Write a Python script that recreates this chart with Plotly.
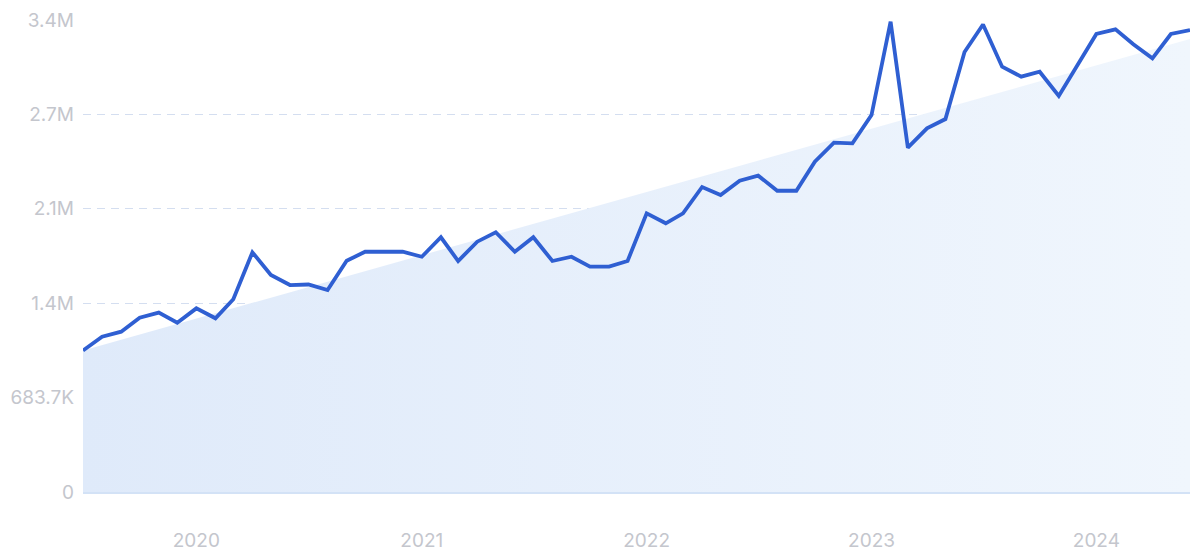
import plotly.graph_objects as go
import pandas as pd

# Monthly data, Jul 2019 - Jun 2024
months = pd.date_range("2019-07-01", "2024-06-01", freq="MS").strftime("%Y-%m-%d").tolist()
values = [
    1.025e6, 1.125e6, 1.161e6, 1.262e6, 1.299e6, 1.226e6,            # 2019 Jul-Dec
    1.330e6, 1.258e6, 1.396e6, 1.736e6, 1.572e6, 1.499e6,            # 2020 Jan-Jun
    1.503e6, 1.463e6, 1.675e6, 1.740e6, 1.740e6, 1.740e6,            # 2020 Jul-Dec
    1.704e6, 1.845e6, 1.673e6, 1.813e6, 1.881e6, 1.740e6,            # 2021 Jan-Jun
    1.845e6, 1.673e6, 1.704e6, 1.632e6, 1.632e6, 1.673e6,            # 2021 Jul-Dec
    2.018e6, 1.946e6, 2.018e6, 2.209e6, 2.151e6, 2.255e6,            # 2022 Jan-Jun
    2.291e6, 2.182e6, 2.182e6, 2.392e6, 2.530e6, 2.525e6,            # 2022 Jul-Dec
    2.730e6, 3.406e6, 2.494e6, 2.634e6, 2.701e6, 3.187e6,            # 2023 Jan-Jun
    3.386e6, 3.080e6, 3.008e6, 3.044e6, 2.868e6, 3.093e6,            # 2023 Jul-Dec
    3.317e6, 3.351e6, 3.243e6, 3.141e6, 3.317e6, 3.346e6,            # 2024 Jan-Jun
]

# Trend (shaded area) endpoints
trend_dates = ["2019-07-01", "2024-06-01"]
trend_values = [1.025e6, 3.28e6]

# Axis ticks
y_tickvals = [0, 683700, 1367400, 2051100, 2734800, 3418500]
y_ticktext = ["0", "683.7K", "1.4M", "2.1M", "2.7M", "3.4M"]
x_tickvals = ["2020-01-01", "2021-01-01", "2022-01-01", "2023-01-01", "2024-01-01"]
x_ticktext = ["2020", "2021", "2022", "2023", "2024"]

fig = go.Figure()

fig.add_trace(go.Scatter(
    x=trend_dates, y=trend_values, mode="lines",
    line=dict(width=0, color="rgba(0,0,0,0)"),
    fill="tozeroy",
    fillgradient=dict(type="horizontal",
                      colorscale=[[0, "#dfeafa"], [1, "#f0f6fd"]]),
    hoverinfo="skip", showlegend=False,
))

fig.add_trace(go.Scatter(
    x=months, y=values, mode="lines",
    line=dict(color="#2f5fd2", width=3.8),
    showlegend=False,
))

tick_font = dict(family="Inter, Roboto, sans-serif", size=19, color="#c4c6cd")

# The page body has an 8px margin, so the figure is sized to fit the window.
fig.update_layout(
    width=1192, height=548,
    margin=dict(l=75, r=10, t=12, b=64),
    paper_bgcolor="white", plot_bgcolor="white",
    xaxis=dict(
        type="date", automargin=False,
        range=["2019-07-01", "2024-06-01"],
        tickvals=x_tickvals, ticktext=x_ticktext,
        showgrid=False, zeroline=False,
        showline=True, linecolor="#d3e2f6", linewidth=1.5,
        ticks="", ticklabelstandoff=30,
        tickfont=tick_font,
    ),
    yaxis=dict(
        automargin=False,
        range=[0, 3418500],
        tickvals=y_tickvals, ticktext=y_ticktext,
        showgrid=True, gridcolor="#d4def0", gridwidth=1, griddash="8px,6px",
        zeroline=False, showline=False,
        ticks="", ticklabelstandoff=8,
        tickfont=tick_font,
    ),
)

fig.write_html("out.html")
